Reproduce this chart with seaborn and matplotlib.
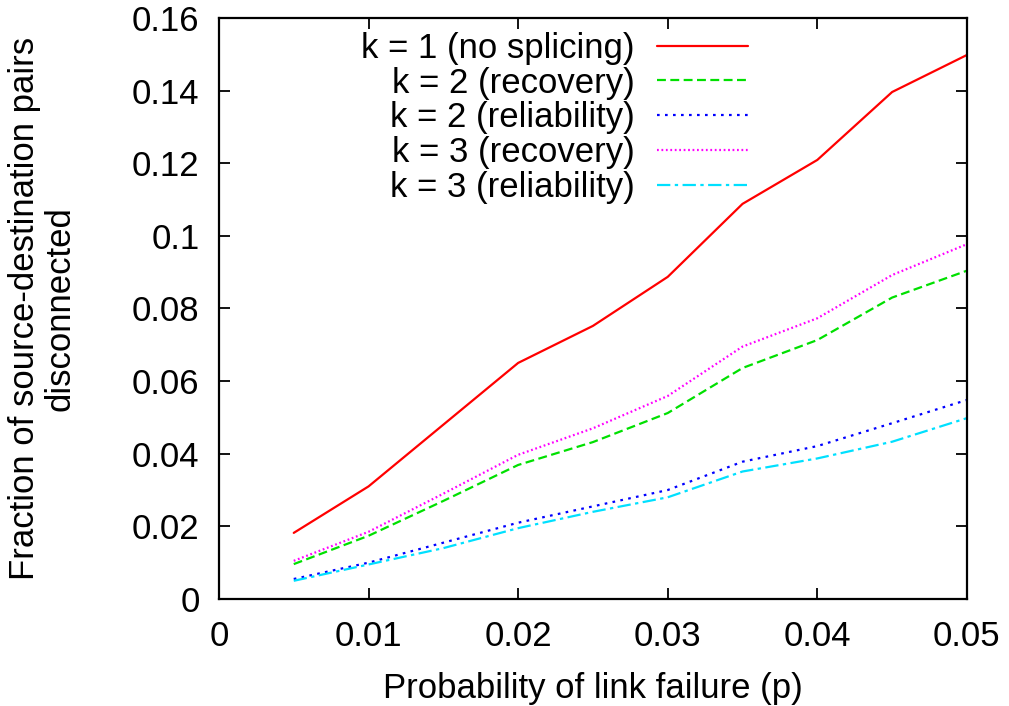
import numpy as np
import pandas as pd
import matplotlib
matplotlib.use("Agg")
import matplotlib.pyplot as plt
import seaborn as sns

# Link failure probability
p = [0.005, 0.01, 0.015, 0.02, 0.025, 0.03, 0.035, 0.04, 0.045, 0.05]

# Fraction of source-destination pairs disconnected
k1_no_splicing = [0.0182, 0.0310, 0.0480, 0.0650, 0.0752, 0.0887, 0.1088, 0.1209, 0.1396, 0.1498]
k2_recovery = [0.0096, 0.0174, 0.0270, 0.0369, 0.0432, 0.0512, 0.0636, 0.0713, 0.0830, 0.0904]
k2_reliability = [0.0055, 0.0100, 0.0155, 0.0210, 0.0255, 0.0300, 0.0378, 0.0421, 0.0484, 0.0548]
k3_recovery = [0.0105, 0.0185, 0.0290, 0.0397, 0.0470, 0.0559, 0.0695, 0.0773, 0.0892, 0.0977]
k3_reliability = [0.0050, 0.0095, 0.0140, 0.0195, 0.0240, 0.0280, 0.0351, 0.0387, 0.0433, 0.0498]

labels = ["k = 1 (no splicing)", "k = 2 (recovery)", "k = 2 (reliability)",
          "k = 3 (recovery)", "k = 3 (reliability)"]
series = [k1_no_splicing, k2_recovery, k2_reliability, k3_recovery, k3_reliability]

x_ticks = [0, 0.01, 0.02, 0.03, 0.04, 0.05]
x_ticklabels = ["0", "0.01", "0.02", "0.03", "0.04", "0.05"]
y_ticks = [0, 0.02, 0.04, 0.06, 0.08, 0.1, 0.12, 0.14, 0.16]
y_ticklabels = ["0", "0.02", "0.04", "0.06", "0.08", "0.1", "0.12", "0.14", "0.16"]

df = pd.concat(
    [pd.DataFrame({"p": p, "frac": vals, "series": lab}) for lab, vals in zip(labels, series)],
    ignore_index=True,
)

sns.set_style("ticks")
plt.rcParams["font.family"] = ["Liberation Sans", "DejaVu Sans"]
plt.rcParams["text.color"] = "black"
plt.rcParams["axes.labelcolor"] = "black"

colors = ["#ff0000", "#00e000", "#0000ff", "#ff00ff", "#00e0ff"]
dashes = ["", (4, 2), (1.2, 2.4), (0.8, 1.2), (6, 2, 1.5, 2)]

FS = 25

fig = plt.figure(figsize=(10.09, 7.06), dpi=100)
ax = fig.add_axes([0.217, 0.1516, 0.7413, 0.823])

sns.lineplot(data=df, x="p", y="frac", hue="series", style="series",
             hue_order=labels, style_order=labels,
             palette=dict(zip(labels, colors)), dashes=dict(zip(labels, dashes)),
             linewidth=1.6, ax=ax, legend=False)

ax.set_xlim(0, 0.05)
ax.set_ylim(0, 0.16)
ax.set_xticks(x_ticks)
ax.set_xticklabels(x_ticklabels)
ax.set_yticks(y_ticks)
ax.set_yticklabels(y_ticklabels)
ax.tick_params(direction="in", length=8, width=1.3, labelsize=FS, top=True, right=True,
               colors="black")
ax.tick_params(axis="y", pad=14)
ax.tick_params(axis="x", pad=15)
for s in ax.spines.values():
    s.set_linewidth(1.6)
    s.set_color("black")

ax.set_xlabel("Probability of link failure (p)", fontsize=FS, labelpad=14, color="black")
ax.set_ylabel("Fraction of source-destination pairs\ndisconnected", fontsize=FS,
              labelpad=40, linespacing=1.08, color="black")

handles = ax.get_lines()[:len(labels)]
leg = ax.legend(handles, labels, loc="upper right", bbox_to_anchor=(0.707, 0.976),
                frameon=False, markerfirst=False, fontsize=FS, handlelength=2.62,
                handletextpad=0.63, labelspacing=0.05, borderpad=0, borderaxespad=0,
                labelcolor="black")

fig.savefig("out.png", dpi=100)
